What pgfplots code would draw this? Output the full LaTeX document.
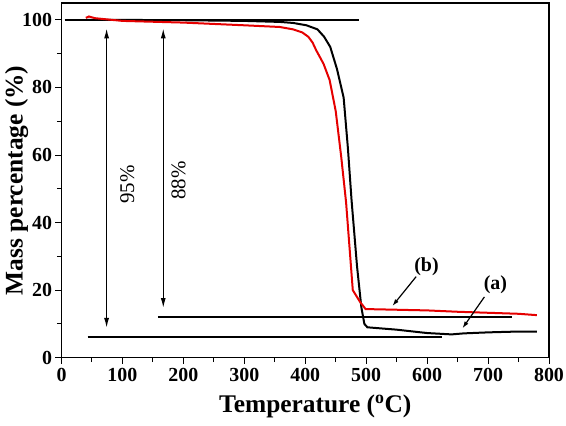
\documentclass[border=0pt]{standalone}
\usepackage{fontspec}
\setmainfont{Liberation Serif}
\usepackage{pgfplots}
\pgfplotsset{compat=1.18}
\usetikzlibrary{arrows.meta}
\begin{document}
\begin{tikzpicture}[x=1bp,y=1bp]
\begin{axis}[
  at={(0,0)}, anchor=south west,
  scale only axis, width=487.5bp, height=354.7bp,
  xmin=0, xmax=800, ymin=0, ymax=105,
  xtick={0,100,...,800}, ytick={0,20,...,100},
  minor xtick={50,150,...,750}, minor ytick={10,30,...,90},
  tick pos=left, tick align=outside,
  major tick length=6bp, minor tick length=4.5bp,
  every tick/.style={black, line width=1bp},
  axis line style={line width=1.1bp},
  /pgf/number format/assume math mode=true,
  tick label style={font=\bfseries\fontsize{20}{20}\selectfont},
  xticklabel style={yshift=-1bp},
  xlabel={\bfseries\fontsize{25.5}{25.5}\selectfont Temperature (\textsuperscript{o}C)},
  ylabel={\bfseries\fontsize{25.5}{25.5}\selectfont Mass percentage (\%)},
  xlabel style={at={(axis description cs:0.5,0)}, anchor=base, yshift=-55bp, xshift=10bp},
  ylabel style={at={(axis description cs:0,0.5)}, anchor=north, yshift=60bp},
  clip=false,
]
% reference lines
\addplot[black, line width=1.5bp] coordinates {(5,100) (488,100)};
\addplot[black, line width=1.5bp] coordinates {(158,12) (740,12)};
\addplot[black, line width=1.5bp] coordinates {(43,6.1) (625,6.1)};
% curve (a) black
\addplot[black, line width=2bp] coordinates {
(40,100) (100,100) (200,99.9) (300,99.7) (358,99.4) (380,99.1) (402,98.4) (420,97.2) (431,95) (441,92)
(452,85.5) (463,77) (470,62) (476,46.6) (485,27) (492,15) (497,10) (502,9)
(550,8.3) (600,7.3) (640,6.9) (660,7.2) (700,7.5) (740,7.7) (780,7.7)};
% curve (b) red
\addplot[red!90!black, line width=2bp] coordinates {
(40,100.6) (45,101) (55,100.5) (100,99.7) (200,99.2) (300,98.4) (358,97.9) (380,97.2) (395,96.3) (405,95)
(412,93.3) (418,91) (430,87) (440,82.2) (450,73) (459,59.5) (467,46) (478,20) (490,16.5) (499,14.4)
(550,14.2) (600,14.0) (650,13.6) (700,13.3) (750,13.0) (780,12.6)};
% arrows
\draw[{Latex[length=10bp,width=5bp]}-{Latex[length=10bp,width=5bp]}, line width=1.3bp]
  (axis cs:74,8.8) -- (axis cs:74,97.5);
\draw[{Latex[length=10bp,width=5bp]}-{Latex[length=10bp,width=5bp]}, line width=1.3bp]
  (axis cs:167,14.7) -- (axis cs:167,97.5);
\node[rotate=90, font=\fontsize{21}{21}\selectfont] at (axis cs:108,51.3) {95\%};
\node[rotate=90, font=\fontsize{21}{21}\selectfont] at (axis cs:192,52.5) {88\%};
\draw[-{Latex[length=7bp,width=4.5bp]}, line width=1.2bp] (axis cs:582,24) -- (axis cs:543,15.3);
\draw[-{Latex[length=7bp,width=4.5bp]}, line width=1.2bp] (axis cs:694,18) -- (axis cs:658,8.7);
\node[font=\bfseries\fontsize{20}{20}\selectfont] at (axis cs:599,27) {(b)};
\node[font=\bfseries\fontsize{20}{20}\selectfont] at (axis cs:712,21.5) {(a)};
\end{axis}
\pgfresetboundingbox
\path[use as bounding box] (-61.5,-67.3) rectangle (504.5,357.7);
\end{tikzpicture}
\end{document}
